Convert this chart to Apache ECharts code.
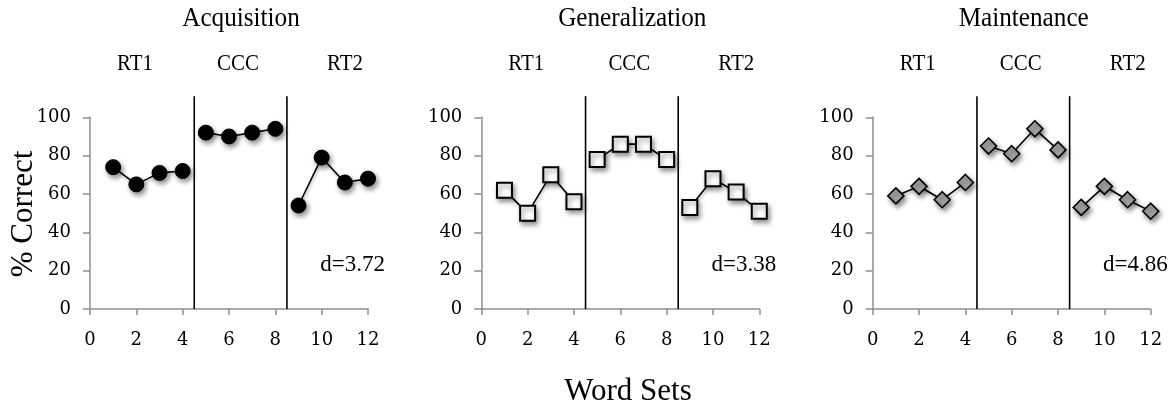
<!DOCTYPE html>
<html>
<head>
<meta charset="utf-8">
<script src="https://cdn.jsdelivr.net/npm/echarts@6/dist/echarts.min.js"></script>
<style>
  html, body { margin: 0; padding: 0; background: #fff; }
  #chart { width: 1172px; height: 410px; }
</style>
</head>
<body>
<div id="chart"></div>
<script>
// ---- data ----
const wordSets = [1, 2, 3, 4, 5, 6, 7, 8, 9, 10, 11, 12];
const acquisition = [74, 65, 71, 72, 92, 90, 92, 94, 54, 79, 66, 68];
const generalization = [62, 50, 70, 56, 78, 86, 86, 78, 53, 68, 61, 51];
const maintenance = [59, 64, 57, 66, 85, 81, 94, 83, 53, 64, 57, 51];
const panelTitles = ['Acquisition', 'Generalization', 'Maintenance'];
const phaseLabels = ['RT1', 'CCC', 'RT2'];
const phaseSizes = [4, 4, 4];
const phaseBoundaries = [4.5, 8.5];
const effectSizes = ['d=3.72', 'd=3.38', 'd=4.86'];
const xAxisTitle = 'Word Sets';
const yAxisTitle = '% Correct';

// ---- layout / style ----
const panelValues = [acquisition, generalization, maintenance];
const gridLefts = [90, 481.3, 872.7];
const gridWidth = 278;
const gridTop = 117.3;
const gridHeight = 191.7;
const serif = '"Liberation Serif", "Times New Roman", serif';
const tickFont = '"DejaVu Serif", serif';
const axisGray = '#8e8e8e';

const markerStyles = [
  { symbol: 'circle', symbolSize: 15, itemStyle: { color: '#000', borderColor: '#000', borderWidth: 1 } },
  { symbol: 'rect', symbolSize: 15, itemStyle: { color: '#fff', borderColor: '#000', borderWidth: 2 } },
  { symbol: 'diamond', symbolSize: 16, itemStyle: { color: '#a6a6a6', borderColor: '#000', borderWidth: 1.6 } }
];

const grids = [], xAxes = [], yAxes = [], series = [], graphics = [];

panelValues.forEach((vals, p) => {
  grids.push({ left: gridLefts[p], top: gridTop, width: gridWidth, height: gridHeight, containLabel: false });
  xAxes.push({
    type: 'value', gridIndex: p, min: 0, max: 12, interval: 2,
    axisLine: { show: true, onZero: false, lineStyle: { color: axisGray, width: 1.5 } },
    axisTick: { show: true, length: 6, lineStyle: { color: axisGray, width: 1.5 } },
    axisLabel: { color: '#000', fontFamily: tickFont, fontSize: 18, margin: 22 },
    splitLine: { show: false }
  });
  yAxes.push({
    type: 'value', gridIndex: p, min: 0, max: 100, interval: 20,
    axisLine: { show: true, lineStyle: { color: axisGray, width: 1.5 } },
    axisTick: { show: true, length: 7, lineStyle: { color: axisGray, width: 1.5 } },
    axisLabel: { color: '#000', fontFamily: tickFont, fontSize: 18, margin: 19 },
    splitLine: { show: false }
  });

  let start = 0;
  phaseSizes.forEach((n) => {
    const data = [];
    for (let i = start; i < start + n; i++) data.push([wordSets[i], vals[i]]);
    start += n;
    const m = markerStyles[p];
    series.push({
      type: 'line', xAxisIndex: p, yAxisIndex: p, data: data,
      symbol: m.symbol, symbolSize: m.symbolSize,
      itemStyle: Object.assign({
        shadowBlur: 5, shadowColor: 'rgba(0,0,0,0.45)', shadowOffsetX: 2, shadowOffsetY: 3
      }, m.itemStyle),
      lineStyle: { color: '#000', width: 1.6, shadowBlur: 3, shadowColor: 'rgba(0,0,0,0.3)', shadowOffsetX: 1, shadowOffsetY: 2 },
      silent: true, animation: false, z: 3
    });
  });

  phaseBoundaries.forEach((b) => {
    series.push({
      type: 'line', xAxisIndex: p, yAxisIndex: p,
      data: [[b, 0], [b, 111]], clip: false,
      symbol: 'none', lineStyle: { color: '#000', width: 1.6 },
      silent: true, animation: false, z: 2
    });
  });

  graphics.push({
    type: 'text', x: gridLefts[p] + 151, y: 19, scaleX: 0.9,
    style: { text: panelTitles[p], font: '28px ' + serif, fill: '#000', textAlign: 'center', textVerticalAlign: 'middle' }
  });
  const phaseOffsets = [45, 148, 255];
  phaseLabels.forEach((lab, k) => {
    graphics.push({
      type: 'text', x: gridLefts[p] + phaseOffsets[k], y: 64, scaleX: 0.87,
      style: { text: lab, font: '24px ' + serif, fill: '#000', textAlign: 'center', textVerticalAlign: 'middle' }
    });
  });
  graphics.push({
    type: 'text', x: gridLefts[p] + 295, y: 265,
    style: { text: effectSizes[p], font: '23px ' + serif, fill: '#000', textAlign: 'right', textVerticalAlign: 'middle' }
  });
});

graphics.push({
  type: 'text', x: 628, y: 392,
  style: { text: xAxisTitle, font: '31px ' + serif, fill: '#000', textAlign: 'center', textVerticalAlign: 'middle' }
});
graphics.push({
  type: 'text', x: 24, y: 214, rotation: Math.PI / 2,
  style: { text: yAxisTitle, font: '31px ' + serif, fill: '#000', textAlign: 'center', textVerticalAlign: 'middle' }
});

const chart = echarts.init(document.getElementById('chart'), null, { renderer: 'canvas' });
chart.setOption({
  animation: false,
  backgroundColor: '#fff',
  grid: grids,
  xAxis: xAxes,
  yAxis: yAxes,
  series: series,
  graphic: graphics
});
</script>
</body>
</html>
